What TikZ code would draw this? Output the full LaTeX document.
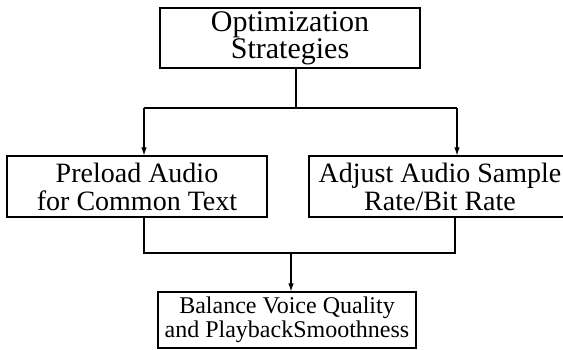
\documentclass[tikz,border=0pt]{standalone}
\usepackage{fontspec}
\setmainfont{Liberation Serif}
\usetikzlibrary{arrows.meta}
\begin{document}
\begin{tikzpicture}[x=1pt,y=1pt,
  box/.style={draw, line width=1.1pt, align=center, inner sep=0pt, anchor=center},
  conn/.style={line width=1.1pt},
  arr/.style={conn, -{Latex[length=8pt,width=5.5pt]}}]
\useasboundingbox (0,0) rectangle (563,349);
\clip (0,0) rectangle (563,349);
\node[box, minimum width=260pt, minimum height=60pt, font=\fontsize{30}{24}\selectfont] (top) at (290,311) {Optimization\\Strategies};
\node[box, minimum width=260pt, minimum height=61pt, font=\fontsize{28}{28}\selectfont] (left) at (137,162.5) {Preload Audio\\for Common Text};
\node[box, minimum width=262pt, minimum height=61pt, font=\fontsize{28}{28}\selectfont] (right) at (440,162.5) {Adjust Audio Sample\\Rate/Bit Rate};
\node[box, minimum width=258pt, minimum height=56pt, font=\fontsize{24}{24}\selectfont] (bot) at (287,29) {Balance Voice Quality\\and PlaybackSmoothness};
\coordinate (jT) at (296,241);
\coordinate (jL) at (144,241);
\coordinate (jR) at (457,241);
\coordinate (kL) at (144,96);
\coordinate (kR) at (455,96);
\coordinate (kM) at (291,96);
\draw[conn] (jT |- top.south) -- (jT);
\draw[conn] (jL) -- (jR);
\draw[arr] (jL) -- (jL |- left.north);
\draw[arr] (jR) -- (jR |- right.north);
\draw[conn] (kL |- left.south) -- (kL) -- (kR) -- (kR |- right.south);
\draw[arr] (kM) -- (kM |- bot.north);
\end{tikzpicture}
\end{document}
